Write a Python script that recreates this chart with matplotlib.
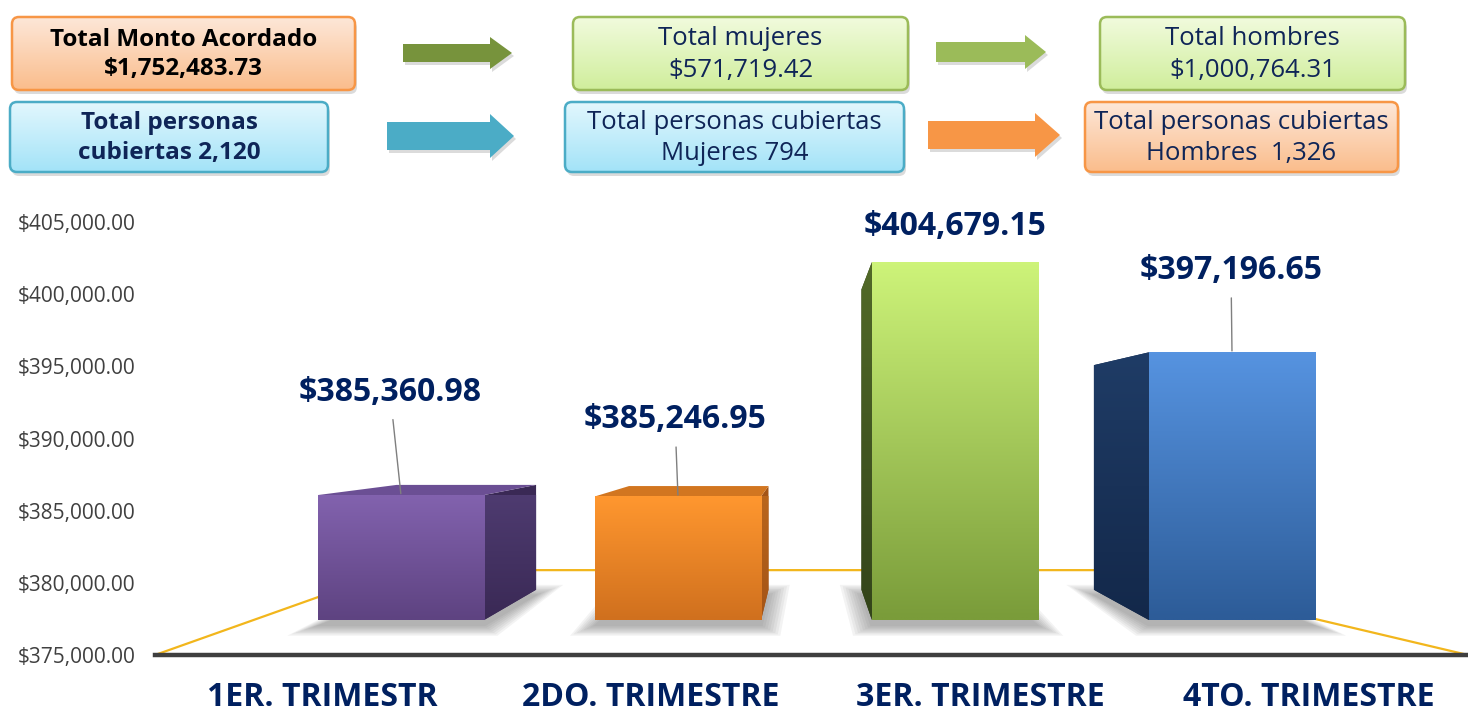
import numpy as np
import matplotlib
matplotlib.use("Agg")
import matplotlib.pyplot as plt
import matplotlib.colors as mcolors
from matplotlib.patches import FancyBboxPatch, Polygon

# --- data ---
quarters = ["1ER. TRIMESTR", "2DO. TRIMESTRE", "3ER. TRIMESTRE", "4TO. TRIMESTRE"]
amounts = [385360.98, 385246.95, 404679.15, 397196.65]
y_ticks = [375000, 380000, 385000, 390000, 395000, 400000, 405000]

box_texts = [
    "Total Monto Acordado\n$1,752,483.73",
    "Total mujeres\n$571,719.42",
    "Total hombres\n$1,000,764.31",
    "Total personas\ncubiertas 2,120",
    "Total personas cubiertas\nMujeres 794",
    "Total personas cubiertas\nHombres  1,326",
]

# --- styles ---
NAVY = "#002060"
front_cols = [("#8262AE", "#5E4381"), ("#FF972F", "#D0701E"),
              ("#CDF379", "#7A9C3A"), ("#5693E0", "#2D5C98")]
side_cols = [("#4E3B70", "#3A2955"), ("#B9651C", "#A45416"),
             ("#526A28", "#33441A"), ("#1F3C66", "#13284A")]
top_cols = ["#6B4F94", "#D27620", "#B5D968", "#3E6FB0"]

plt.rcParams['font.family'] = ['Open Sans', 'DejaVu Sans']

fig = plt.figure(figsize=(14.68, 7.14), dpi=100)
W, H = 1468, 714


def gradient(axx, c_top, c_bot, extent, clip, z):
    t = np.linspace(0, 1, 64)[:, None]
    ct = np.array(mcolors.to_rgb(c_top))
    cb = np.array(mcolors.to_rgb(c_bot))
    arr = (ct * (1 - t) + cb * t).reshape(64, 1, 3)
    im = axx.imshow(arr, extent=extent, origin='upper', aspect='auto',
                    interpolation='bilinear', zorder=z)
    im.set_clip_path(clip)
    return im


# ---------- header boxes (pixel coordinates) ----------
hx = fig.add_axes([0, 0, 1, 1])
hx.set_xlim(0, W)
hx.set_ylim(H, 0)
hx.axis('off')

orange_box = ("#FDE7D8", "#FABD8C", "#F79646")
cyan_box = ("#E2F7FD", "#A3E3F8", "#4BACC6")
green_box = ("#F1FBDD", "#D0EE9C", "#9BBB59")

box_rects = [(12, 17, 343, 73), (573, 17, 335, 73), (1100, 17, 305, 73),
             (10, 102, 318, 70), (565, 102, 339, 70), (1085, 102, 313, 70)]
box_styles = [orange_box, green_box, green_box, cyan_box, cyan_box, orange_box]
box_bold = [True, False, False, True, False, False]
box_color = ["black", "#0F2557", "#0F2557", "#0F2557", "#0F2557", "#0F2557"]

for (x, y, w, h), (ct, cb, ce), txt, bold, tc in zip(box_rects, box_styles, box_texts,
                                                      box_bold, box_color):
    sh = FancyBboxPatch((x + 2, y + 4), w, h, boxstyle="round,pad=0,rounding_size=7",
                        fc="#9a9a9a", ec="none", alpha=0.35, zorder=1)
    hx.add_patch(sh)
    p = FancyBboxPatch((x, y), w, h, boxstyle="round,pad=0,rounding_size=7",
                       fc="none", ec=ce, lw=1.8, zorder=3)
    hx.add_patch(p)
    gradient(hx, ct, cb, (x, x + w, y + h, y), p, 2)
    hx.text(x + w / 2, y + h / 2 + 1, txt, ha='center', va='center',
            fontsize=17.5 if bold else 18.5,
            fontweight='bold' if bold else 'normal', color=tc, linespacing=1.32, zorder=4)

# arrows: x0, x_head, x1, y center, body half height, head half height
arrows = [(403, 490, 512, 53, 9, 16, "#77933C"),
          (387, 490, 514, 136, 14, 22, "#4BACC6"),
          (936, 1025, 1046, 52, 10, 17, "#9BBB59"),
          (928, 1035, 1060, 135, 14, 22, "#F79646")]
for x0, xh, x1, yc, bh, hh, col in arrows:
    pts = [(x0, yc - bh), (xh, yc - bh), (xh, yc - hh), (x1, yc), (xh, yc + hh),
           (xh, yc + bh), (x0, yc + bh)]
    hx.add_patch(Polygon([(px + 2, py + 3) for px, py in pts], closed=True,
                         fc="#888888", ec="none", alpha=0.3, zorder=1))
    hx.add_patch(Polygon(pts, closed=True, fc=col, ec="none", zorder=2))

# ---------- back axis: ticks, floor and category labels ----------
rect = [155 / W, 59 / H, 1313 / W, 433 / H]
ax = fig.add_axes(rect)
ax.set_ylim(y_ticks[0], y_ticks[-1])
ax.set_xlim(-0.508, 3.483)
ax.set_yticks(y_ticks)
ax.set_yticklabels([f"${v:,.2f}" for v in y_ticks], fontsize=15, color="#404040")
ax.set_xticks(range(len(quarters)))
ax.set_xticklabels(quarters, fontsize=23, fontweight='bold', color=NAVY)
ax.tick_params(axis='y', length=0, pad=14)
ax.tick_params(axis='x', length=0, pad=19)
for s in ['top', 'right', 'left']:
    ax.spines[s].set_visible(False)
ax.spines['bottom'].set_color("#3F3F3F")
ax.spines['bottom'].set_linewidth(3.2)
ax.patch.set_alpha(0)
# floor outline
ax.plot([0, 0.182, 0.726, 1], [0, 0.196, 0.196, 0], transform=ax.transAxes,
        color="#F2B61C", lw=1.6, clip_on=False, zorder=1)

# ---------- front bars with perspective ----------
bx = fig.add_axes(rect)
bx.axis('off')
bx.patch.set_alpha(0)
base = 375000
vp_x, vp_y, k = 1.466, 390589, 0.839   # vanishing point and depth factor
bw = 0.6
label_off = [(-11, 103), (-3, 77), (0, 36), (-1, 82)]   # pixels
leader = [True, True, False, True]


def back(px, py):
    return vp_x + (px - vp_x) * k, vp_y + (py - vp_y) * k


for i, v in enumerate(amounts):
    L, R = i - bw / 2, i + bw / 2

    # soft floor shadow: blurred footprint
    foot = np.array([(L, base), (R, base), back(R, base), back(L, base)])
    c = foot.mean(axis=0)
    for j in range(8):
        sx, sy = 1.02 + 0.035 * j, 1.05 + 0.09 * j
        pts = c + (foot - c) * [sx, sy] + [0, -450]
        bx.add_patch(Polygon(pts, closed=True, fc="#5a5a5a", ec="none",
                             alpha=0.07, zorder=1))

    # side face
    sx = R if R < vp_x else L
    bxs, bt = back(sx, v)
    _, bb = back(sx, base)
    side = Polygon([(sx, base), (sx, v), (bxs, bt), (bxs, bb)], closed=True,
                   fc=side_cols[i][1], ec="none", zorder=2)
    bx.add_patch(side)
    gradient(bx, side_cols[i][0], side_cols[i][1],
             (min(sx, bxs), max(sx, bxs), base, v), side, 2.1)

    # top face when the top is below the horizon
    if v < vp_y:
        tl, tt = back(L, v)
        tr, _ = back(R, v)
        bx.add_patch(Polygon([(L, v), (R, v), (tr, tt), (tl, tt)], closed=True,
                             fc=top_cols[i], ec="none", zorder=2.2))

    bar = bx.bar(i, v - base, bottom=base, width=bw, color=front_cols[i][1],
                 edgecolor="none", zorder=3)[0]
    gradient(bx, front_cols[i][0], front_cols[i][1], (L, R, base, v), bar, 3.1)

    dx, dy = label_off[i]
    bx.annotate(f"${v:,.2f}", xy=(i, v), xytext=(dx * 0.72, dy * 0.72),
                textcoords='offset points', ha='center', va='center',
                fontsize=23, fontweight='bold', color=NAVY, zorder=5,
                arrowprops=dict(arrowstyle='-', color='#7F7F7F', lw=1,
                                shrinkA=6, shrinkB=1) if leader[i] else None)

bx.set_xlim(-0.888, 3.852)
bx.set_ylim(372098, 408002)

fig.savefig("out.png", dpi=100)
